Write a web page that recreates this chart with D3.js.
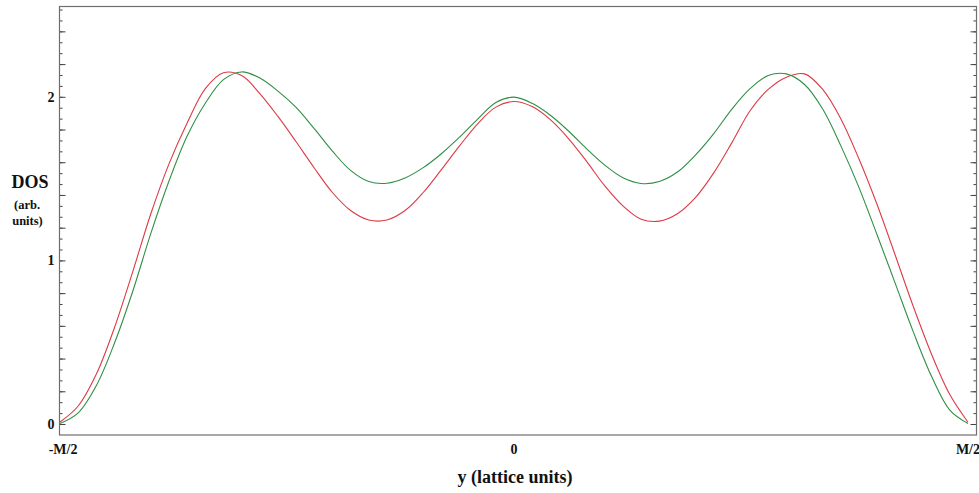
<!DOCTYPE html>
<html>
<head>
<meta charset="utf-8">
<script src="https://cdn.jsdelivr.net/npm/d3@7"></script>
<style>
  html, body { margin: 0; padding: 0; background: #fff; }
  svg { display: block; }
  text { font-family: "Liberation Serif", "Times New Roman", serif; font-weight: bold; fill: #111; }
</style>
</head>
<body>
<div id="chart"></div>
<script>
// ---- data: position y in percent of M (-50 = -M/2 ... 50 = M/2), DOS in arb. units ----
const positions = [-50, -48, -46, -44, -42, -40, -38, -36, -34, -32, -30, -28, -26, -24, -22, -20, -18,
  -16, -14, -12, -10, -8, -6, -4, -2, 0, 2, 4, 6, 8, 10, 12, 14, 16, 18, 20, 22, 24, 26, 28, 30,
  32, 34, 36, 38, 40, 42, 44, 46, 48, 50];

const redDOS = [0.012, 0.11, 0.305, 0.59, 0.93, 1.285, 1.59, 1.84, 2.05, 2.147, 2.13, 2.02, 1.88,
  1.725, 1.565, 1.415, 1.305, 1.247, 1.247, 1.305, 1.415, 1.555, 1.70, 1.835, 1.937, 1.971,
  1.94, 1.86, 1.745, 1.605, 1.455, 1.333, 1.252, 1.24, 1.285, 1.385, 1.535, 1.72, 1.915, 2.045,
  2.12, 2.14, 2.045, 1.865, 1.62, 1.34, 1.03, 0.715, 0.425, 0.18, 0.011];

const greenDOS = [0.003, 0.068, 0.235, 0.495, 0.81, 1.165, 1.485, 1.76, 1.961, 2.105, 2.152, 2.115,
  2.035, 1.935, 1.805, 1.668, 1.55, 1.482, 1.472, 1.504, 1.567, 1.652, 1.753, 1.864, 1.965, 1.998,
  1.96, 1.887, 1.791, 1.682, 1.582, 1.505, 1.47, 1.482, 1.54, 1.645, 1.775, 1.925, 2.05, 2.13,
  2.14, 2.075, 1.925, 1.70, 1.445, 1.155, 0.858, 0.56, 0.29, 0.085, 0.003];

const xTickValues = [-50, 0, 50];
const xTickLabels = ["-M/2", "0", "M/2"];
const yTickValues = [0, 1, 2];
const yTickLabels = ["0", "1", "2"];

// ---- layout ----
const W = 979, H = 493;
const svg = d3.select("#chart").append("svg").attr("width", W).attr("height", H);

const x = d3.scaleLinear().domain([-50.06, 50.94]).range([59.5, 976.5]);
const y = d3.scaleLinear().domain([-0.0672, 2.555]).range([435, 6]);

const frameColor = "#6e6e6e";

// minor / major ticks on left & right (inward)
const minorTicks = d3.range(0, 39).map(i => i / 15).filter(v => v <= 2.55);
const majorTicks = d3.range(0, 13).map(i => i * 0.2);

const leftAxis = d3.axisRight(y).tickValues(minorTicks).tickSize(3).tickFormat("");
const leftAxisMajor = d3.axisRight(y).tickValues(majorTicks).tickSize(6).tickFormat("");
const rightAxis = d3.axisLeft(y).tickValues(minorTicks).tickSize(3).tickFormat("");
const rightAxisMajor = d3.axisLeft(y).tickValues(majorTicks).tickSize(6).tickFormat("");

function styleAxis(g) {
  g.select(".domain").remove();
  g.selectAll(".tick line").attr("stroke", "#444").attr("stroke-width", 1);
}
svg.append("g").attr("transform", "translate(59.5,0)").call(leftAxis).call(styleAxis);
svg.append("g").attr("transform", "translate(59.5,0)").call(leftAxisMajor).call(styleAxis);
svg.append("g").attr("transform", "translate(976.5,0)").call(rightAxis).call(styleAxis);
svg.append("g").attr("transform", "translate(976.5,0)").call(rightAxisMajor).call(styleAxis);

// frame
svg.append("rect")
  .attr("x", 59.5).attr("y", 6.5)
  .attr("width", 976.5 - 59.5).attr("height", 435 - 6.5)
  .attr("fill", "none").attr("stroke", frameColor).attr("stroke-width", 1.2);

// y tick labels
svg.append("g").selectAll("text").data(yTickValues).join("text")
  .attr("x", 54.5).attr("y", d => y(d) + 5)
  .attr("text-anchor", "end").attr("font-size", 14)
  .text((d, i) => yTickLabels[i]);

// x tick labels
svg.append("g").selectAll("text").data(xTickValues).join("text")
  .attr("x", d => x(d) + (d < 0 ? 3 : 0)).attr("y", 454)
  .attr("text-anchor", "middle").attr("font-size", 14)
  .text((d, i) => xTickLabels[i]);

// axis titles
svg.append("text").attr("x", 515).attr("y", 483)
  .attr("text-anchor", "middle").attr("font-size", 18)
  .text("y (lattice units)");
svg.append("text").attr("x", 30).attr("y", 188)
  .attr("text-anchor", "middle").attr("font-size", 18).text("DOS");
svg.append("text").attr("x", 27).attr("y", 209)
  .attr("text-anchor", "middle").attr("font-size", 12.5).text("(arb.");
svg.append("text").attr("x", 27.5).attr("y", 225)
  .attr("text-anchor", "middle").attr("font-size", 12.5).text("units)");

// curves
const line = d3.line().x(d => x(d[0])).y(d => y(d[1])).curve(d3.curveCatmullRom.alpha(0.5));
const redData = d3.zip(positions, redDOS);
const greenData = d3.zip(positions, greenDOS);

svg.append("path").datum(redData).attr("d", line)
  .attr("fill", "none").attr("stroke", "#dd3a44").attr("stroke-width", 1.1);
svg.append("path").datum(greenData).attr("d", line)
  .attr("fill", "none").attr("stroke", "#2f8f45").attr("stroke-width", 1.1);
</script>
</body>
</html>
